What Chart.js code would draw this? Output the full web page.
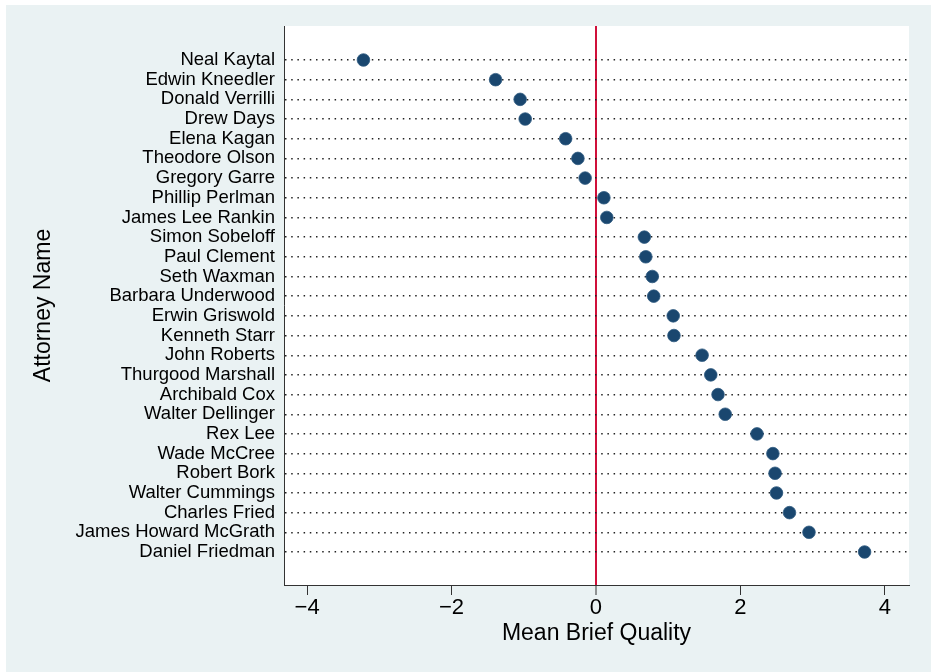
<!DOCTYPE html>
<html>
<head>
<meta charset="utf-8">
<script src="https://cdn.jsdelivr.net/npm/chart.js@4.4.1/dist/chart.umd.min.js"></script>
<style>
  html, body { margin: 0; padding: 0; background: #ffffff; }
  #wrap { position: absolute; left: 6px; top: 5px; width: 925px; height: 667px; background: #eaf2f3; }
  canvas { display: block; }
</style>
</head>
<body>
<div id="wrap"><canvas id="c" width="925" height="667"></canvas></div>
<script>
const attorneys = [
  "Neal Kaytal", "Edwin Kneedler", "Donald Verrilli", "Drew Days", "Elena Kagan",
  "Theodore Olson", "Gregory Garre", "Phillip Perlman", "James Lee Rankin", "Simon Sobeloff",
  "Paul Clement", "Seth Waxman", "Barbara Underwood", "Erwin Griswold", "Kenneth Starr",
  "John Roberts", "Thurgood Marshall", "Archibald Cox", "Walter Dellinger", "Rex Lee",
  "Wade McCree", "Robert Bork", "Walter Cummings", "Charles Fried", "James Howard McGrath",
  "Daniel Friedman"
];
const meanBriefQuality = [
  -3.22, -1.39, -1.05, -0.98, -0.42,
  -0.25, -0.15, 0.11, 0.15, 0.67,
  0.69, 0.78, 0.80, 1.07, 1.08,
  1.47, 1.59, 1.69, 1.79, 2.23,
  2.45, 2.48, 2.50, 2.68, 2.95,
  3.72
];
const xTickValues = [-4, -2, 0, 2, 4];
const xTitle = "Mean Brief Quality";
const yTitle = "Attorney Name";

const FONT = "'Liberation Sans', Arial, sans-serif";

const points = meanBriefQuality.map((v, i) => ({ x: v, y: i }));

const plotBg = {
  id: 'plotBg',
  beforeDraw(chart) {
    const { ctx, chartArea: a } = chart;
    ctx.save();
    ctx.fillStyle = '#ffffff';
    ctx.fillRect(a.left, a.top, a.right - a.left, a.bottom - a.top);
    ctx.restore();
  }
};

new Chart(document.getElementById('c'), {
  type: 'scatter',
  data: {
    datasets: [{
      data: points,
      backgroundColor: '#1a476f',
      borderColor: '#2f5a80',
      borderWidth: 0.8,
      pointRadius: 6.3,
      pointHoverRadius: 6.3
    }]
  },
  options: {
    responsive: false,
    animation: false,
    devicePixelRatio: 1,
    layout: { padding: { top: 21, right: 22, left: 0, bottom: 0 } },
    plugins: { legend: { display: false }, tooltip: { enabled: false } },
    scales: {
      x: {
        type: 'linear',
        min: -4.32,
        max: 4.335,
        afterBuildTicks: s => { s.ticks = xTickValues.map(v => ({ value: v })); },
        afterFit: s => { s.height = 87; },
        ticks: {
          color: '#000',
          font: { family: FONT, size: 22 },
          padding: 0,
          maxRotation: 0,
          callback: v => (v < 0 ? '\u2212' + Math.abs(v) : String(v))
        },
        grid: {
          display: true,
          drawOnChartArea: true,
          drawTicks: true,
          tickLength: 10,
          color: c => (c.tick && c.tick.value === 0 ? '#d0103a' : 'rgba(0,0,0,0)'),
          lineWidth: c => (c.tick && c.tick.value === 0 ? 2 : 1),
          tickColor: '#333',
          tickWidth: 1
        },
        border: { display: true, color: '#333', width: 1 },
        title: {
          display: true,
          text: xTitle,
          color: '#000',
          font: { family: FONT, size: 23 },
          padding: { top: 0, bottom: 25 }
        }
      },
      y: {
        type: 'linear',
        reverse: true,
        min: -1.728,
        max: 26.677,
        afterBuildTicks: s => { s.ticks = attorneys.map((_, i) => ({ value: i })); },
        afterFit: s => { s.width = 278; },
        ticks: {
          color: '#000',
          font: { family: FONT, size: 18.5 },
          padding: 9,
          autoSkip: false,
          callback: v => attorneys[v]
        },
        grid: {
          display: true,
          drawTicks: false,
          color: '#222',
          lineWidth: 1.4
        },
        border: { display: true, color: '#333', width: 1, dash: [1.5, 4.7] },
        title: {
          display: true,
          text: yTitle,
          color: '#000',
          font: { family: FONT, size: 23 },
          padding: { top: 24, bottom: 0 }
        }
      }
    }
  },
  plugins: [plotBg]
});
</script>
</body>
</html>
